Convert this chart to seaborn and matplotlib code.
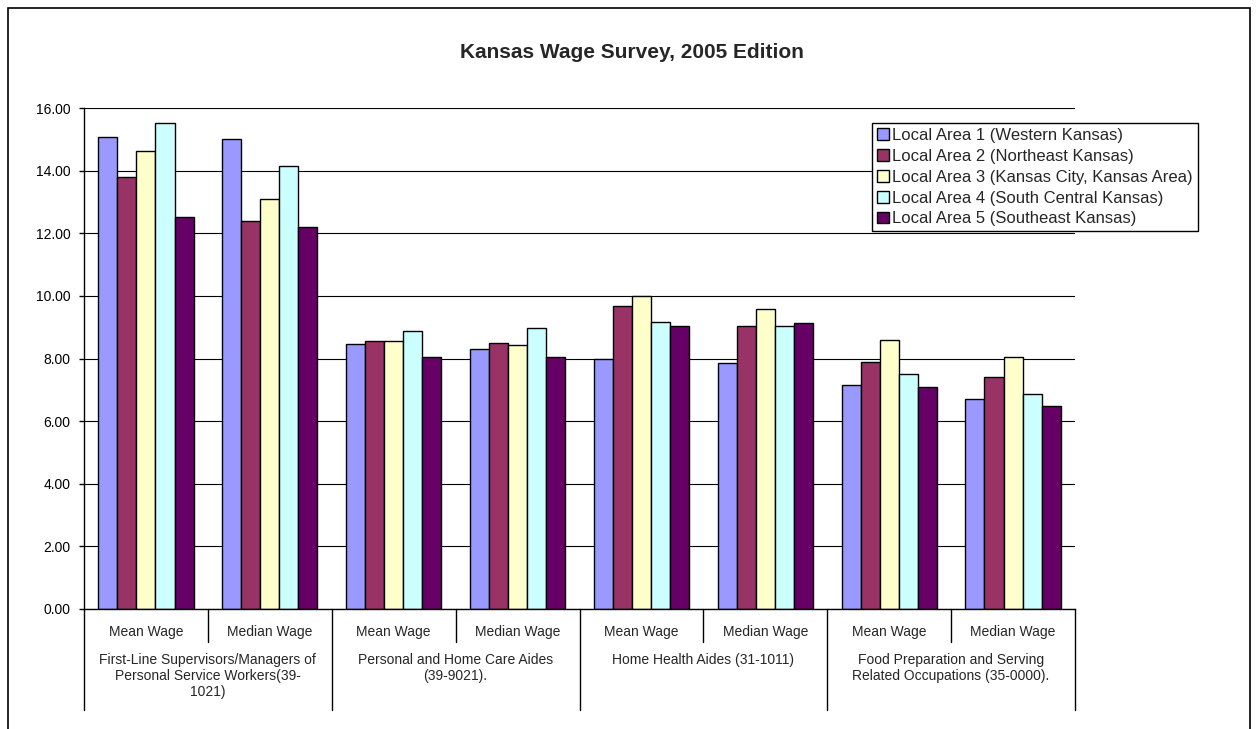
import matplotlib
matplotlib.use("Agg")
import matplotlib.pyplot as plt
import matplotlib.transforms as mtransforms
from matplotlib.patches import Rectangle
import seaborn as sns
import pandas as pd

# ---------------- data ----------------
occupations = [
    "First-Line Supervisors/Managers of\nPersonal Service Workers(39-\n1021)",
    "Personal and Home Care Aides\n(39-9021).",
    "Home Health Aides (31-1011)",
    "Food Preparation and Serving\nRelated Occupations (35-0000).",
]
measures = ["Mean Wage", "Median Wage"]
areas = [
    "Local Area 1 (Western Kansas)",
    "Local Area 2 (Northeast Kansas)",
    "Local Area 3 (Kansas City, Kansas Area)",
    "Local Area 4 (South Central Kansas)",
    "Local Area 5 (Southeast Kansas)",
]
area1 = [15.06, 15.00, 8.45, 8.29, 7.97, 7.86, 7.16, 6.70]
area2 = [13.79, 12.40, 8.55, 8.49, 9.69, 9.04, 7.88, 7.41]
area3 = [14.64, 13.10, 8.57, 8.42, 9.99, 9.59, 8.59, 8.04]
area4 = [15.51, 14.16, 8.88, 8.97, 9.15, 9.04, 7.52, 6.86]
area5 = [12.52, 12.21, 8.04, 8.04, 9.04, 9.12, 7.10, 6.47]
colors = ["#9999FF", "#993366", "#FFFFCC", "#CCFFFF", "#660066"]
title = "Kansas Wage Survey, 2005 Edition"
yticks = [0, 2, 4, 6, 8, 10, 12, 14, 16]

# ---------------- build table ----------------
slots = [f"{o}|{m}" for o in range(len(occupations)) for m in measures]
rows = []
for area, vals in zip(areas, [area1, area2, area3, area4, area5]):
    for s, v in zip(slots, vals):
        rows.append({"slot": s, "area": area, "wage": v})
df = pd.DataFrame(rows)

# ---------------- style ----------------
sns.set_theme(style="white")
plt.rcParams["font.family"] = ["Liberation Sans", "DejaVu Sans"]
plt.rcParams["font.size"] = 10

W, H = 1258, 729
fig = plt.figure(figsize=(W / 100, H / 100), dpi=100)
fig.patch.set_facecolor("white")
ax = fig.add_axes([84 / W, 1 - 609 / H, (1075 - 84) / W, (609 - 108) / H])

sns.barplot(
    data=df, x="slot", y="wage", hue="area", order=slots, hue_order=areas,
    palette=colors, saturation=1, width=5 / 6.5, edgecolor="black",
    linewidth=1.0, ax=ax, errorbar=None,
)

ax.set_xlim(-0.5, len(slots) - 0.5)
ax.set_ylim(0, 16)
ax.set_yticks(yticks)
ax.set_yticklabels([f"{v:.2f}" for v in yticks], fontsize=10, color="black")
ax.tick_params(axis="y", direction="out", length=3.6, width=1, color="black", pad=6, left=True)
ax.set_xticks([])
ax.set_xlabel("")
ax.set_ylabel("")
ax.yaxis.grid(True, color="black", linewidth=0.8)
ax.set_axisbelow(True)
for sp in ["top", "right"]:
    ax.spines[sp].set_visible(False)
for sp in ["left", "bottom"]:
    ax.spines[sp].set_color("black")
    ax.spines[sp].set_linewidth(1.0)

# ---------------- multi-level x axis ----------------
tr = mtransforms.blended_transform_factory(ax.transData, fig.transFigure)
fy = lambda py: 1 - py / H
for i, s in enumerate(slots):
    m = s.split("|")[1]
    ax.text(i, fy(632), m, transform=tr, ha="center", va="center", fontsize=10, clip_on=False)
for g, occ in enumerate(occupations):
    xc = 2 * g + 0.5
    ax.text(xc, fy(653), occ, transform=tr, ha="center", va="top", fontsize=10,
            multialignment="center", clip_on=False)
# separators
for g in range(len(occupations)):
    xi = 2 * g + 0.5
    ax.plot([xi, xi], [fy(609), fy(642)], transform=tr, color="black", lw=1, clip_on=False)
for g in range(len(occupations) + 1):
    xo = 2 * g - 0.5
    ax.plot([xo, xo], [fy(609), fy(710)], transform=tr, color="black", lw=1, clip_on=False)

# ---------------- legend ----------------
handles, labels = ax.get_legend_handles_labels()
leg = ax.legend(
    handles, labels, loc="upper left", bbox_to_anchor=(872 / W, fy(123)),
    bbox_transform=fig.transFigure, borderaxespad=0, fontsize=12, frameon=True,
    fancybox=False, shadow=False, handlelength=0.72, handleheight=0.72,
    handletextpad=0.2, labelspacing=0.35, borderpad=0.3, framealpha=1,
)
leg.get_frame().set_edgecolor("black")
leg.get_frame().set_linewidth(1.0)

# ---------------- title & border ----------------
fig.text(632 / W, fy(52), title, ha="center", va="center", fontsize=15, fontweight="bold")
fig.patches.append(Rectangle((8 / W, -0.05), (1250 - 8) / W, 1 - 8 / H + 0.05,
                             transform=fig.transFigure, fill=False, edgecolor="black",
                             lw=1.2, clip_on=False))

fig.savefig("out.png", dpi=100)
